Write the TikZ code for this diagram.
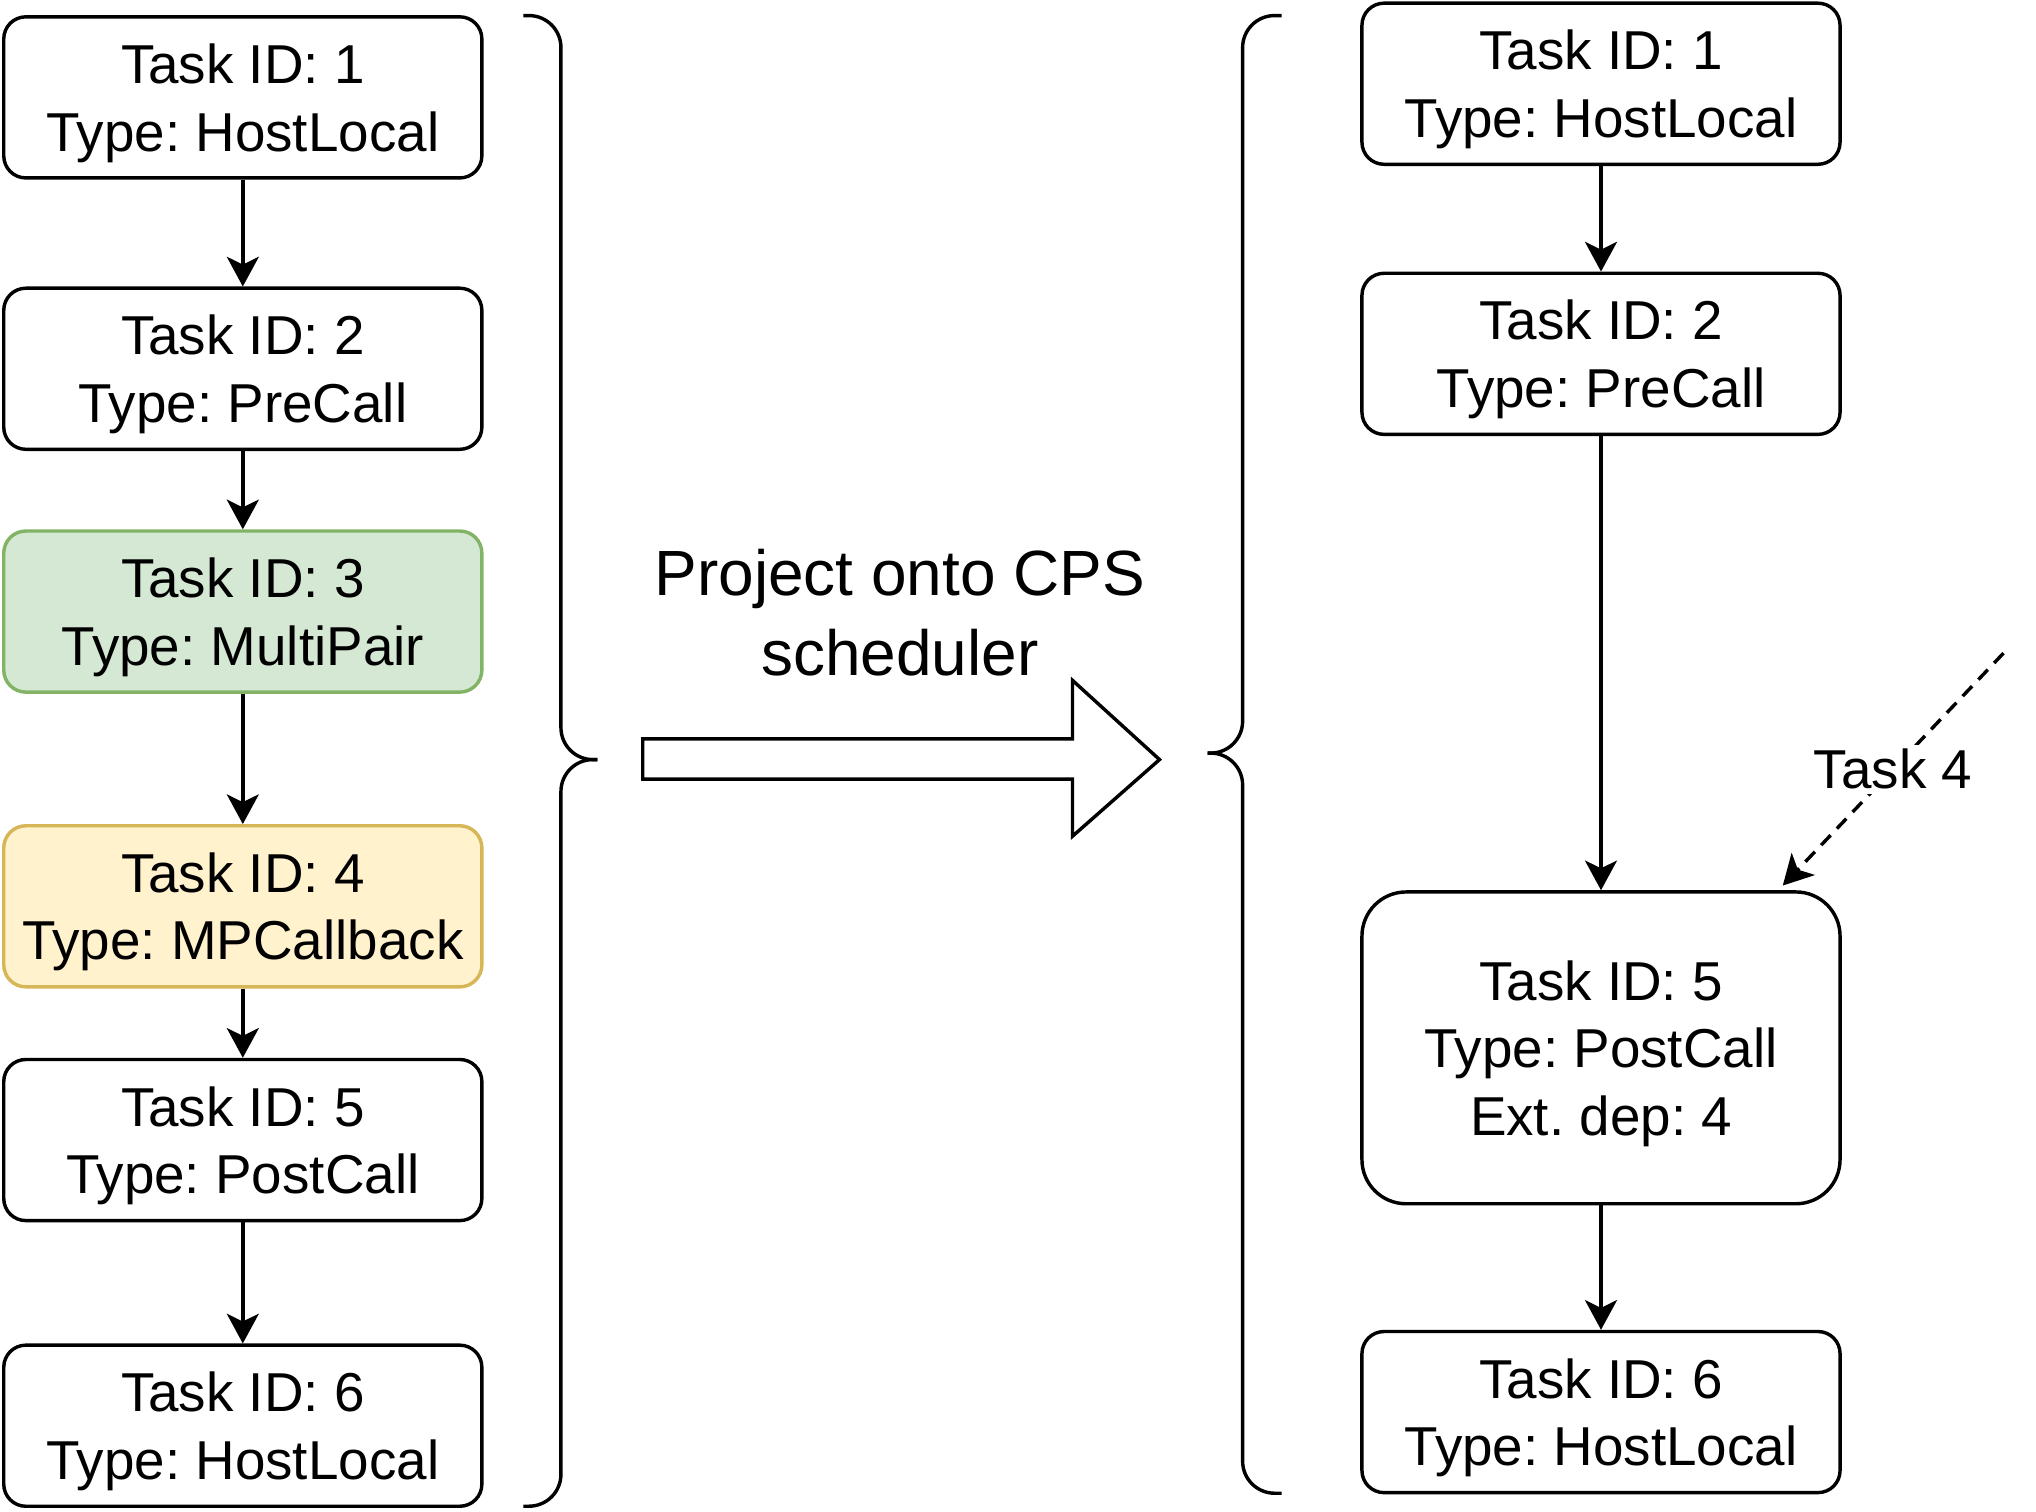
\documentclass[tikz,border=0pt]{standalone}
\usepackage{fontspec}
\setmainfont{Liberation Sans}
\usetikzlibrary{arrows.meta}
\definecolor{gfill}{HTML}{D5E8D4}
\definecolor{gdraw}{HTML}{82B366}
\definecolor{yfill}{HTML}{FFF2CC}
\definecolor{ydraw}{HTML}{D6B656}
\frenchspacing
\begin{document}
\begin{tikzpicture}[x=0.01cm,y=-0.01cm,
  task/.style={draw=black, line width=0.75pt, rounded corners=0.17cm, fill=white,
    minimum width=3.68cm, minimum height=1.24cm, inner sep=0pt, align=center,
    text depth=0pt, font=\fontsize{12}{14.8}\selectfont},
  bigtask/.style={task, minimum height=2.40cm, rounded corners=0.34cm},
  green/.style={fill=gfill, draw=gdraw},
  yellow/.style={fill=yfill, draw=ydraw},
  flow/.style={line width=0.75pt, -{Stealth[length=6.5pt, width=7pt, inset=1.7pt]}},
  brace/.style={line width=0.75pt, rounded corners=7pt},
]
\useasboundingbox (0,0) rectangle (1568,1164);

% left column
\node[task] (l1) at (187,75) {Task ID: 1\\Type: HostLocal};
\node[task] (l2) at (187,284) {Task ID: 2\\Type: PreCall};
\node[task, green] (l3) at (187,471) {Task ID: 3\\Type: MultiPair};
\node[task, yellow] (l4) at (187,698) {Task ID: 4\\Type: MPCallback};
\node[task] (l5) at (187,878) {Task ID: 5\\Type: PostCall};
\node[task] (l6) at (187,1098) {Task ID: 6\\Type: HostLocal};

\draw[flow] (l1) -- (l2);
\draw[flow] (l2) -- (l3);
\draw[flow] (l3) -- (l4);
\draw[flow] (l4) -- (l5);
\draw[flow] (l5) -- (l6);

% right column
\node[task] (r1) at (1233,64.5) {Task ID: 1\\Type: HostLocal};
\node[task] (r2) at (1233,272.5) {Task ID: 2\\Type: PreCall};
\node[bigtask] (r5) at (1233,807) {Task ID: 5\\Type: PostCall\\Ext. dep: 4};
\node[task] (r6) at (1233,1087.5) {Task ID: 6\\Type: HostLocal};

\draw[flow] (r1) -- (r2);
\draw[flow] (r2) -- (r5);
\draw[flow] (r5) -- (r6);

% external dependency
\coordinate (t4s) at (1543,503);
\coordinate (t4e) at (1373,682);
\draw[flow, dash pattern=on 3pt off 2pt] (t4s) -- node[fill=white, inner sep=1pt, font=\fontsize{12}{14.8}\selectfont] (t4l) {Task 4} (t4e);

% braces
\draw[brace] (403,12) -- (432,12) -- (432,585) -- (460,585);
\draw[brace] (460,585) -- (432,585) -- (432,1160) -- (403,1160);
\draw[brace] (987,12) -- (957,12) -- (957,580) -- (930,580);
\draw[brace] (930,580) -- (957,580) -- (957,1150) -- (987,1150);

% big arrow
\draw[line width=0.75pt, line join=miter] (495,569) -- (826,569) -- (826,524) -- (893,585) -- (826,644) -- (826,600) -- (495,600) -- cycle;
\node[align=center, font=\fontsize{14}{17.4}\selectfont] (proj) at (693,472) {Project onto CPS\\scheduler};
\end{tikzpicture}
\end{document}
